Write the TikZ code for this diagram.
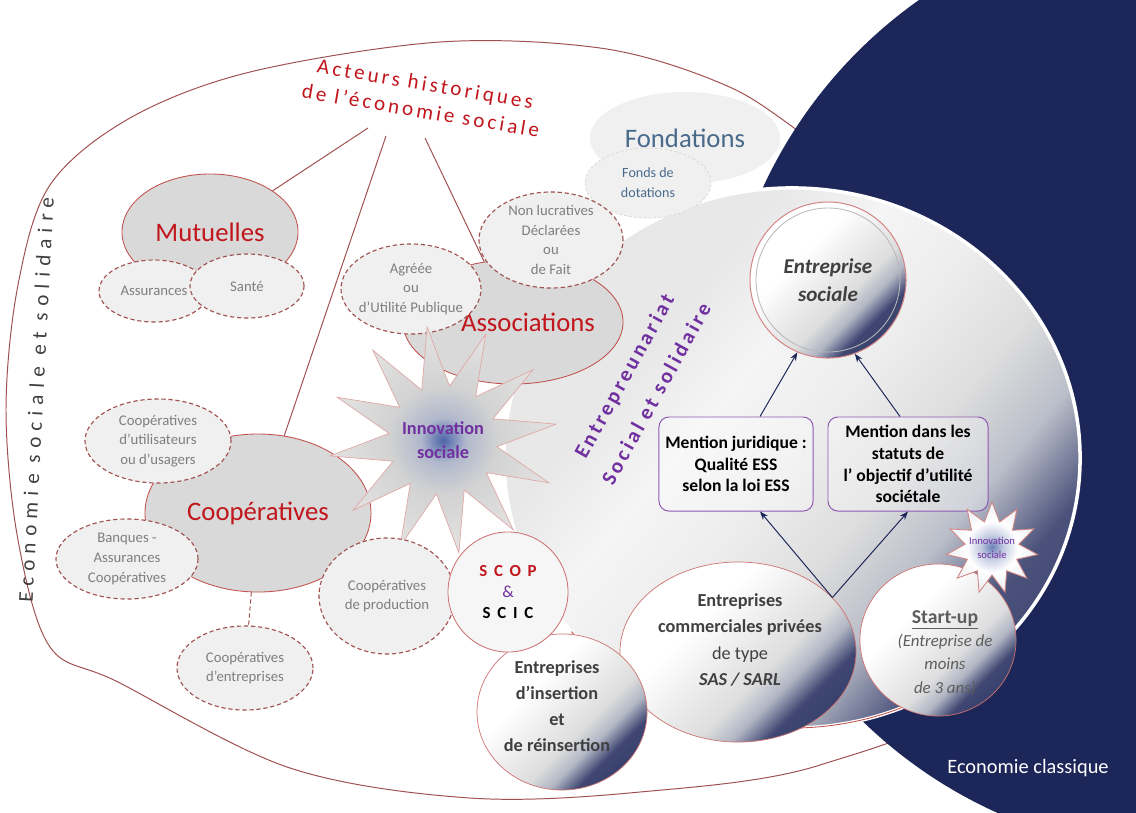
\documentclass[tikz,border=0pt]{standalone}
\usepackage{fontspec}
\setmainfont{Carlito}
\newfontfamily\spacedfont[LetterSpace=15]{Carlito}
\newfontfamily\widefont[LetterSpace=30]{Carlito}
\newfontfamily\scopfont[LetterSpace=40]{Carlito}
\usetikzlibrary{shapes.geometric, arrows.meta, positioning}

\definecolor{ecoNavy}{HTML}{1D2659}
\definecolor{ecoBlue}{HTML}{2D4A9A}
\definecolor{ecoRed}{HTML}{C0504D}
\definecolor{ecoDarkRed}{HTML}{C0161C}
\definecolor{ecoLine}{HTML}{A05050}
\definecolor{ecoGray}{HTML}{D9D9D9}
\definecolor{ecoLight}{HTML}{F0F0F0}
\definecolor{ecoText}{HTML}{7F7F7F}
\definecolor{ecoDark}{HTML}{404040}
\definecolor{ecoPurple}{HTML}{7030A0}
\definecolor{ecoSteel}{HTML}{4A6A8C}
\definecolor{ecoPale}{HTML}{E4E7EE}

\pgfdeclarehorizontalshading{bubble}{100bp}{%
  color(0bp)=(white); color(38bp)=(white); color(50bp)=(gray!16);
  color(58bp)=(gray!26); color(64bp)=(ecoBlue!35!gray!50);
  color(70bp)=(ecoNavy!85); color(100bp)=(ecoNavy)}
\pgfdeclarehorizontalshading{esssphere}{100bp}{%
  color(0bp)=(gray!20); color(34bp)=(gray!18); color(42bp)=(gray!8);
  color(50bp)=(gray!14); color(58bp)=(gray!26); color(65bp)=(ecoBlue!30!gray!45);
  color(72bp)=(ecoNavy!80); color(100bp)=(ecoNavy)}
\pgfdeclareradialshading{glow}{\pgfpoint{0bp}{0bp}}{%
  color(0bp)=(ecoBlue!85); color(5bp)=(ecoBlue!55!gray!45); color(12bp)=(gray!35);
  color(25bp)=(gray!22)}
\pgfdeclareradialshading{glowsmall}{\pgfpoint{0bp}{0bp}}{%
  color(0bp)=(ecoBlue!70); color(6bp)=(ecoBlue!30!white); color(14bp)=(white);
  color(30bp)=(ecoPale)}

\tikzset{
  main ell/.style={ellipse, draw=ecoRed, line width=0.6pt, fill=ecoGray,
    text=ecoDarkRed, font=\fontsize{19}{22}\selectfont, inner sep=0pt},
  sub ell/.style={ellipse, draw=ecoLine, dash pattern=on 3pt off 2pt,
    line width=0.8pt, fill=ecoLight, inner sep=0pt},
  sub text/.style={align=center, text=ecoText, font=\fontsize{10.5}{14}\selectfont},
  bubble ell/.style={ellipse, draw=ecoRed!80, line width=0.5pt, shading=bubble,
    shading angle=-45, inner sep=0pt},
  bubble text/.style={align=center, text=ecoDark,
    font=\bfseries\fontsize{13}{18.5}\selectfont},
  mention/.style={rectangle, rounded corners=7pt, draw=ecoPurple!80,
    line width=0.7pt, fill=white, fill opacity=0.3, text opacity=1,
    align=center, inner sep=0pt, font=\bfseries\fontsize{12.5}{15.5}\selectfont},
  link/.style={draw=ecoLine, line width=0.7pt},
  arr/.style={draw=ecoNavy, line width=0.7pt, -{Stealth[length=6pt, width=4.5pt]}},
}

\begin{document}
\begin{tikzpicture}[x=0.025cm, y=-0.025cm]
\useasboundingbox (0,0) rectangle (1136,812);
\clip (0,0) rectangle (1136,812);

% economie sociale et solidaire
\draw[ecoLine, line width=0.7pt] plot[smooth cycle, tension=0.55] coordinates {
  (6,410) (18,285) (50,185) (130,118) (250,72) (440,42) (600,48) (713,80)
  (790,125) (960,260) (1060,450) (990,680) (820,765) (640,792) (470,798)
  (290,768) (118,682) (50,647) (18,540)};

% economie classique
\fill[ecoNavy] (1190,384) circle[radius=470];
\node[text=white, font=\fontsize{14.5}{17}\selectfont] (classique) at (1028,768)
  {Economie classique};

% entrepreneuriat social et solidaire
\node[ellipse, minimum width=14.4cm, minimum height=13.5cm, inner sep=0pt,
  shading=esssphere, shading angle=-40, draw=white, line width=2.5pt] (ess) at (792,458) {};
\draw[ecoRed, line width=0.6pt] (792,458) ++(140:288 and 270)
  arc[start angle=140, end angle=45, x radius=288, y radius=270];

% fondations
\node[ellipse, fill=ecoLight, minimum width=4.75cm, minimum height=2.3cm,
  inner sep=0pt, text=ecoSteel, font=\fontsize{19}{22}\selectfont] (fond)
  at (685,138) {Fondations};
\node[ellipse, fill=ecoLight, draw=gray!35, dash pattern=on 2pt off 1.5pt,
  minimum width=3.15cm, minimum height=1.75cm, inner sep=0pt] (dot) at (648,183) {};
\node[align=center, text=ecoSteel, font=\fontsize{10}{14}\selectfont] (dot-t)
  at (dot) {Fonds de\\dotations};

% titles
\node[rotate=-9.5, align=center, text=ecoDarkRed,
  font=\spacedfont\fontsize{15}{19.5}\selectfont] (acteurs) at (423,97)
  {Acteurs historiques\\de l’économie sociale};
\node[rotate=87, text=ecoDark, font=\widefont\fontsize{15}{17}\selectfont]
  (esslabel) at (36,400) {Economie sociale et solidaire};

% mutuelles
\node[main ell, minimum width=4.4cm, minimum height=2.9cm] (mut) at (210,232) {Mutuelles};
\node[sub ell, minimum width=2.75cm, minimum height=1.55cm] (assur) at (154,291) {};
\node[sub text] (assur-t) at (assur) {Assurances};
\node[sub ell, minimum width=2.85cm, minimum height=1.6cm] (sante) at (247,286) {};
\node[sub text] (sante-t) at (sante) {Santé};

% associations
\node[main ell, minimum width=5.5cm, minimum height=3.1cm] (asso) at (513,322) {};
\node[text=ecoDarkRed, font=\fontsize{19}{22}\selectfont] (asso-t) at (528,322) {Associations};
\node[sub ell, minimum width=3.5cm, minimum height=2.25cm] (agree) at (411,289) {};
\node[sub text] (agree-t) at (agree) {Agréée\\ou\\d’Utilité Publique};
\node[sub ell, minimum width=3.6cm, minimum height=2.4cm] (nonluc) at (551,240) {};
\node[sub text] (nonluc-t) at (nonluc) {Non lucratives\\Déclarées\\ou\\de Fait};

% cooperatives
\node[main ell, minimum width=5.65cm, minimum height=3.95cm] (coop) at (258,513) {Coopératives};
\node[sub ell, minimum width=3.65cm, minimum height=2.1cm] (coopu) at (158,441) {};
\node[sub text] (coopu-t) at (coopu) {Coopératives\\d’utilisateurs\\ou d’usagers};
\node[sub ell, minimum width=3.55cm, minimum height=2.0cm] (banq) at (127,559) {};
\node[sub text] (banq-t) at (banq) {Banques -\\Assurances\\Coopératives};
\node[sub ell, minimum width=3.4cm, minimum height=2.1cm] (coope) at (245,668) {};
\node[sub text] (coope-t) at (coope) {Coopératives\\d’entreprises};

% links from the historic actors
\coordinate (a1) at (368,128);
\coordinate (a2) at (386,136);
\coordinate (a3) at (425,138);
\draw[link] (a1) -- (mut);
\draw[link] (a2) -- (coop);
\draw[link] (a3) -- (asso);
\draw[link, dash pattern=on 3pt off 2pt] (coop) -- (coope);

% innovation sociale
\node[star, star points=12, star point ratio=2.1, minimum size=5.7cm, inner sep=0pt,
  shading=glow, draw=ecoRed!50, line width=0.5pt, shape border rotate=8] (innov) at (443,440) {};
\node[align=center, text=ecoPurple, font=\bfseries\fontsize{13}{17}\selectfont]
  (innov-t) at (innov) {Innovation\\sociale};

\node[sub ell, minimum width=3.4cm, minimum height=2.9cm] (coopp) at (387,596) {};
\node[sub text] (coopp-t) at (coopp) {Coopératives\\de production};

\node[rotate=61, align=center, text=ecoPurple,
  font=\spacedfont\bfseries\fontsize{15}{26}\selectfont] (entre) at (640,385)
  {Entrepreunariat\\Social et solidaire};

% entreprise sociale and its two mentions
\node[circle, minimum size=3.9cm, shading=bubble, shading angle=-45, draw=ecoRed!70,
  line width=0.7pt, inner sep=0pt, align=center, text=ecoDark,
  font=\bfseries\itshape\fontsize{15}{20}\selectfont] (es) at (828,280) {Entreprise\\sociale};
\draw[gray!55, line width=0.6pt] (es.center) circle[radius=72];

\node[mention, minimum width=3.85cm, minimum height=2.35cm] (mj) at (736,464)
  {Mention juridique :\\Qualité ESS\\selon la loi ESS};
\node[mention, minimum width=4.0cm, minimum height=2.35cm] (md) at (908,464)
  {Mention dans les\\statuts de\\l’ objectif d’utilité\\sociétale};

% companies
\node[bubble ell, minimum width=3.9cm, minimum height=3.8cm] (startup) at (938,640) {};
\node[align=center, text=ecoDark!85, font=\itshape\fontsize{12}{16.5}\selectfont]
  (startup-t) at (945,653)
  {{\upshape\bfseries\fontsize{14}{16.5}\selectfont\underline{Start-up}}\\(Entreprise de\\moins\\de 3 ans)};
\node[bubble ell, minimum width=5.9cm, minimum height=4.5cm] (comm) at (738,652) {};
\node[bubble text] (comm-t) at (740,640)
  {Entreprises\\commerciales privées\\{\mdseries de type}\\{\itshape SAS / SARL}};
\node[bubble ell, minimum width=4.25cm, minimum height=3.9cm] (insert) at (562,712) {};
\node[bubble text] (insert-t) at (557,706) {Entreprises\\d’insertion\\et\\de réinsertion};
\node[circle, minimum size=3.0cm, inner sep=0pt, fill=ecoLight!60!white,
  draw=ecoRed!80, line width=0.6pt, align=center,
  font=\scopfont\bfseries\fontsize{12}{15}\selectfont] (scop) at (508,592)
  {\textcolor{ecoDarkRed}{SCOP}\\\textcolor{ecoPurple}{\mdseries\&}\\SCIC};

\node[star, star points=11, star point ratio=1.7, minimum size=2.3cm, inner sep=0pt,
  shading=glowsmall, draw=ecoRed!70, line width=0.6pt] (innov2) at (992,548) {};
\node[align=center, text=ecoPurple, font=\fontsize{7.5}{10}\selectfont]
  (innov2-t) at (innov2) {Innovation\\sociale};

% arrows
\draw[arr] ([xshift=0.6cm]mj.north) -- (es.247);
\draw[arr] ([xshift=-0.2cm]md.north) -- (es.290);
\draw[arr] (comm.30) -- ([xshift=0.6cm]mj.south);
\draw[arr] (comm.30) -- (md.south);
\end{tikzpicture}
\end{document}
